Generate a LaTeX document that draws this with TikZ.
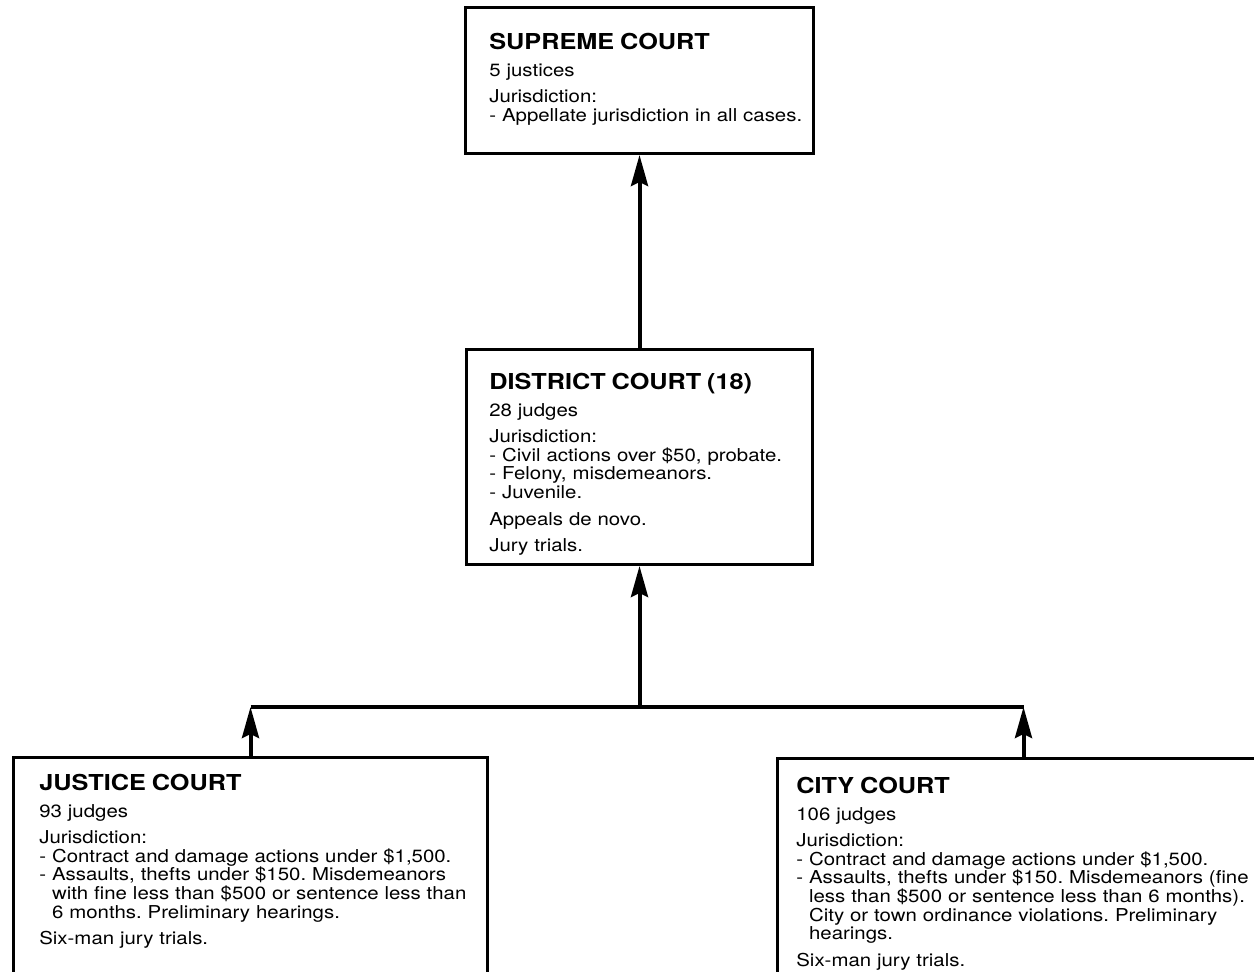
\documentclass[tikz,border=0pt]{standalone}
\usepackage{fontspec}
\setmainfont{TeX Gyre Heros}[FakeStretch=1.15]
\usepackage{tikz}
\usetikzlibrary{positioning,arrows.meta}
\frenchspacing
\newcommand{\titlefont}{\fontsize{12.5}{14}\selectfont\bfseries}
\newcommand{\cind}{\hphantom{-\ }}
\tikzstyle{court} = [rectangle, draw, line width=0.06cm, inner sep=0pt]
\tikzstyle{info} = [text width=10cm, align=left, inner sep=0pt, font=\fontsize{10.1}{10.6}\selectfont,
  execute at begin node={\frenchspacing\setlength{\parindent}{0pt}\setlength{\parskip}{4.5pt}}]
\tikzstyle{up} = [draw, line width=0.08cm, -{Stealth[length=0.62cm, width=0.34cm, inset=0.08cm]}]
\tikzstyle{bus} = [draw, line width=0.08cm]

\begin{document}
\begin{tikzpicture}
	\useasboundingbox (0,0) rectangle (25.08,-19.42);

	% place boxes
	\node [court, minimum width=6.96cm, minimum height=2.92cm, anchor=north west] (supreme) at (9.28,-0.12) {};
	\node [court, minimum width=6.92cm, minimum height=4.3cm, below=3.86cm of supreme] (district) {};
	\node [court, minimum width=9.48cm, minimum height=6cm, anchor=north west] (justice) at (0.24,-15.12) {};
	\node [court, minimum width=9.84cm, minimum height=6cm, anchor=north west] (city) at (15.52,-15.14) {};

	% place texts
	\node [info, below right=0.54cm and 0.5cm of supreme.north west] (supremeT) {
		{\titlefont SUPREME COURT}\par
		5 justices\par
		Jurisdiction:\\
		- Appellate jurisdiction in all cases.};
	\node [info, below right=0.5cm and 0.48cm of district.north west] (districtT) {
		{\titlefont DISTRICT COURT (18)}\par
		28 judges\par
		Jurisdiction:\\
		- Civil actions over \$50, probate.\\
		- Felony, misdemeanors.\\
		- Juvenile.\par
		Appeals de novo.\par
		Jury trials.};
	\node [info, below right=0.36cm and 0.54cm of justice.north west] (justiceT) {
		{\titlefont JUSTICE COURT}\par
		93 judges\par
		Jurisdiction:\\
		- Contract and damage actions under \$1,500.\\
		- Assaults, thefts under \$150. Misdemeanors\\
		\cind with fine less than \$500 or sentence less than\\
		\cind 6 months. Preliminary hearings.\par
		Six-man jury trials.};
	\node [info, below right=0.4cm and 0.4cm of city.north west] (cityT) {
		{\titlefont CITY COURT}\par
		106 judges\par
		Jurisdiction:\\
		- Contract and damage actions under \$1,500.\\
		- Assaults, thefts under \$150. Misdemeanors (fine\\
		\cind less than \$500 or sentence less than 6 months).\\
		\cind City or town ordinance violations. Preliminary\\
		\cind hearings.\par
		Six-man jury trials.};

	% bus line
	\coordinate (busL) at (justice.north |- 0,-14.14);
	\coordinate (busR) at (city.north |- 0,-14.14);

	% draw edges
	\path [bus] (busL) -- (busR);
	\path [up] (justice.north) -- (busL);
	\path [up] (city.north) -- (busR);
	\path [up] (district.south |- busL) -- (district.south);
	\path [up] (district.north) -- (supreme.south);
\end{tikzpicture}
\end{document}
